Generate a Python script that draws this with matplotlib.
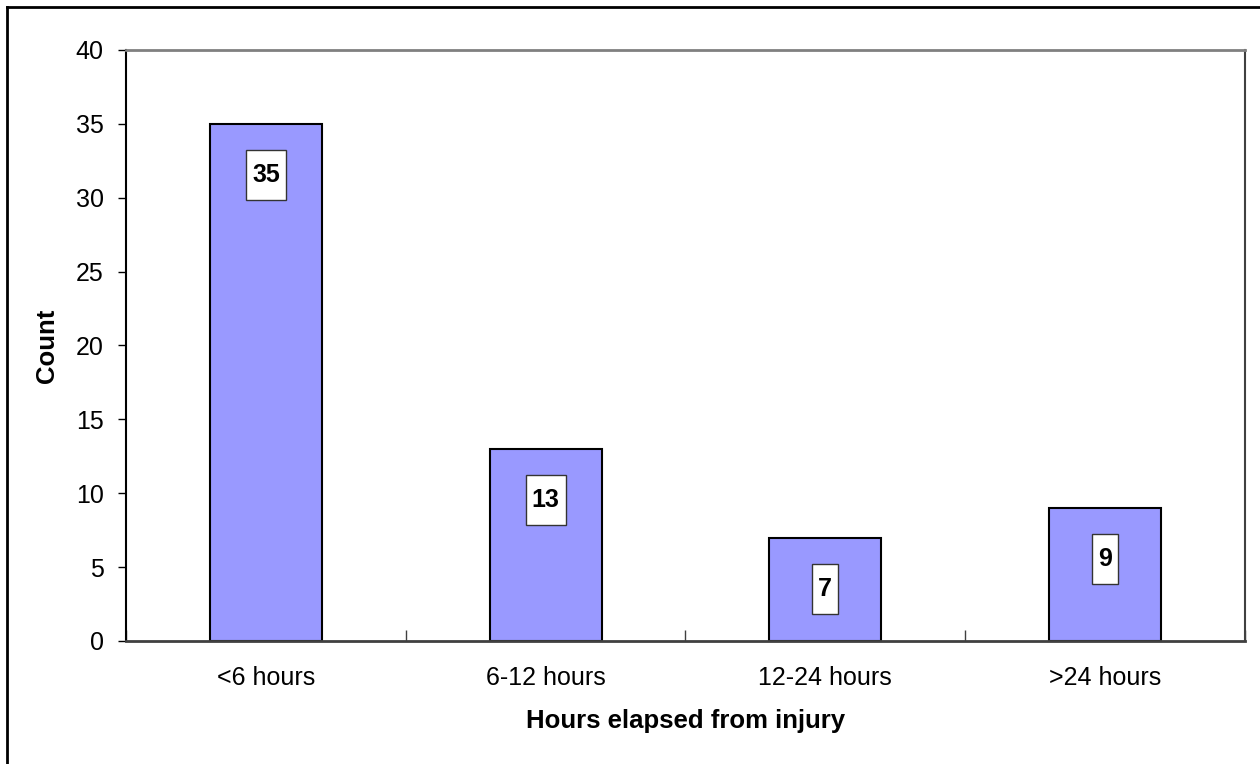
import matplotlib
matplotlib.use("Agg")
import matplotlib.pyplot as plt
from matplotlib.path import Path
from matplotlib.lines import Line2D

plt.rcParams["font.family"] = ["Liberation Sans", "DejaVu Sans"]

categories = ["<6 hours", "6-12 hours", "12-24 hours", ">24 hours"]
counts = [35, 13, 7, 9]
y_ticks = [0, 5, 10, 15, 20, 25, 30, 35, 40]

BAR_COLOR = "#9999FF"

fig = plt.figure(figsize=(12.6, 7.64), dpi=100)
ax = fig.add_axes([0.1, 0.161, 0.888, 0.7736])

x = list(range(len(categories)))
ax.bar(x, counts, width=0.4, color=BAR_COLOR, edgecolor="black",
       linewidth=1.5, zorder=2)

ax.set_xlim(-0.5, len(categories) - 0.5)
ax.set_ylim(0, 40)
ax.set_yticks(y_ticks)
ax.tick_params(axis="y", direction="out", length=6, width=1, pad=10,
               labelsize=18, colors="black")

# category boundary ticks point inward, labels sit under the bar centres
ax.set_xticks([i - 0.5 for i in range(len(categories) + 1)])
ax.set_xticklabels([])
ax.tick_params(axis="x", which="major", direction="in", length=8, width=1,
               color="#404040")
ax.set_xticks(x, minor=True)
ax.set_xticklabels(categories, minor=True)
ax.tick_params(axis="x", which="minor", length=0, pad=18, labelsize=18)

ax.spines["left"].set_color("black")
ax.spines["left"].set_linewidth(1.5)
ax.spines["bottom"].set_color("#404040")
ax.spines["bottom"].set_linewidth(2)
ax.spines["top"].set_color("#808080")
ax.spines["top"].set_linewidth(2)
ax.spines["right"].set_color("#404040")
ax.spines["right"].set_linewidth(1.5)

ax.set_ylabel("Count", fontsize=18.5, fontweight="bold", labelpad=12)
ax.set_xlabel("Hours elapsed from injury", fontsize=18.5, fontweight="bold",
              labelpad=14)


def tall_box(x0, y0, width, height, mutation_size):
    # fixed-height label box, slim horizontal padding
    padx = 6
    cy = y0 + height / 2
    half = 25
    verts = [(x0 - padx, cy - half), (x0 + width + padx, cy - half),
             (x0 + width + padx, cy + half), (x0 - padx, cy + half),
             (x0 - padx, cy - half)]
    return Path(verts, closed=True)


for xi, v in zip(x, counts):
    ax.annotate(f"{v}", xy=(xi, v), xytext=(0, -37), textcoords="offset points",
                ha="center", va="center", fontsize=18, fontweight="bold",
                bbox=dict(boxstyle=tall_box, facecolor="white",
                          edgecolor="#333333", linewidth=1),
                zorder=3)

# frame lines along the left and top edges of the chart
W, H = 1260, 764
fig.add_artist(Line2D([7 / W, 7 / W], [0, 1 - 7 / H], transform=fig.transFigure,
                      color="black", linewidth=2))
fig.add_artist(Line2D([7 / W, 1], [1 - 7 / H, 1 - 7 / H],
                      transform=fig.transFigure, color="black", linewidth=2))

fig.savefig("out.png", dpi=100)
